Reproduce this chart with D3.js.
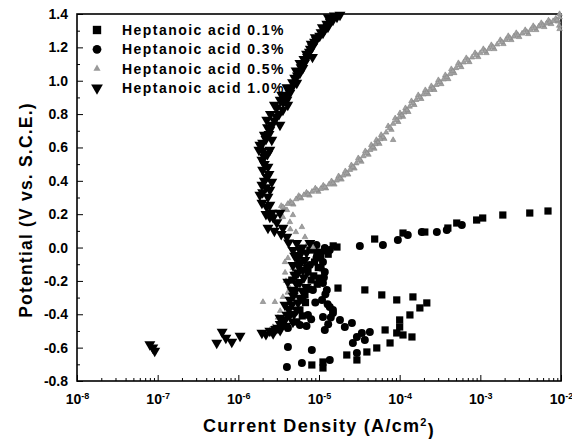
<!DOCTYPE html>
<html><head><meta charset="utf-8">
<script src="https://cdn.jsdelivr.net/npm/d3@7"></script>
<style>
body{margin:0;background:#fff}
svg{display:block}
text{font-family:"Liberation Sans",Arial,Helvetica,sans-serif;font-weight:bold;fill:#000}
</style>
</head><body>
<svg id="c" width="572" height="439"></svg>
<script>
// ---------- data ----------
const xTicks = [1e-8, 1e-7, 1e-6, 1e-5, 1e-4, 1e-3, 1e-2];
const xTickExponents = ["-8", "-7", "-6", "-5", "-4", "-3", "-2"];
const yTicks = [-0.8, -0.6, -0.4, -0.2, 0.0, 0.2, 0.4, 0.6, 0.8, 1.0, 1.2, 1.4];
const yTickLabels = ["-0.8", "-0.6", "-0.4", "-0.2", "0.0", "0.2", "0.4", "0.6", "0.8", "1.0", "1.2", "1.4"];
const seriesNames = ["Heptanoic acid 0.1%", "Heptanoic acid 0.3%", "Heptanoic acid 0.5%", "Heptanoic acid 1.0%"];
const xTitle = "Current Density (A/cm";
const yTitle = "Potential (V vs. S.C.E.)";

// [current density (A/cm2), potential (V)]
const acid01 = [
  [1.67e-5,0.003],[4.9e-5,0.051],[1.1e-4,0.087],[2.05e-4,0.093],[3.96e-4,0.117],[5.1e-4,0.147],
  [9.0e-4,0.165],[1.07e-3,0.177],[1.9e-3,0.195],[4.1e-3,0.207],[6.9e-3,0.219],
  [7.7e-6,-0.015],[9.4e-6,-0.045],[8.8e-6,-0.087],[7.3e-6,-0.147],[8.0e-6,-0.195],[4.6e-6,-0.195],
  [1.0e-5,-0.183],[6.7e-6,-0.284],[5.8e-6,-0.374],[5.3e-6,-0.446],[1.2e-5,-0.02],
  [8.5e-6,-0.01],[1.05e-5,-0.06],[9.8e-6,-0.12],[8.6e-6,-0.17],[9.5e-6,-0.22],[7.4e-6,-0.25],[6.8e-6,-0.33],
  [6.2e-6,-0.41],[1.3e-5,-0.04],[1.5e-5,0.01],
  [1.72e-5,-0.243],[3.7e-5,-0.254],[6.0e-5,-0.284],[9.2e-5,-0.314],[1.46e-4,-0.296],[2.17e-4,-0.332],
  [1.78e-4,-0.362],[1.34e-4,-0.404],[1.0e-4,-0.434],[1.0e-4,-0.476],[6.6e-5,-0.494],[9.2e-5,-0.512],
  [1.1e-4,-0.524],[1.42e-4,-0.536],[7.6e-5,-0.572],[5.2e-5,-0.602],[3.92e-5,-0.626],[2.21e-5,-0.644],
  [2.95e-5,-0.674],[1.12e-5,-0.686],[8.15e-6,-0.704],[1.12e-5,-0.722]
];
const acid03 = [
  [1.36e-5,-0.015],[3.21e-5,0.009],[6.2e-5,0.015],[9.5e-5,0.045],[1.26e-4,0.075],[1.88e-4,0.093],
  [2.89e-4,0.093],[3.84e-4,0.105],[5.9e-4,0.135],[9.3e-6,0.015],[1.18e-5,-0.003],
  [7.7e-6,-0.105],[8.4e-6,-0.254],[6.3e-6,-0.314],[7.3e-6,-0.404],[5.8e-6,-0.464],[4.12e-6,-0.482],[9.3e-6,-0.063],
  [1.12e-5,-0.087],[1.18e-5,-0.147],[1.12e-5,-0.213],[1.25e-5,-0.254],[1.09e-5,-0.314],[1.36e-5,-0.356],
  [1.49e-5,-0.374],[1.12e-5,-0.416],[1.49e-5,-0.392],[1.18e-5,-0.494],
  [1.0e-5,-0.03],[1.05e-5,-0.12],[1.15e-5,-0.18],[1.2e-5,-0.28],[1.28e-5,-0.34],[1.4e-5,-0.42],[1.3e-5,-0.46],
  [9.0e-6,-0.33],[8.0e-6,-0.43],[7.0e-6,-0.47],
  [1.82e-5,-0.434],[2.09e-5,-0.476],[2.56e-5,-0.452],[2.95e-5,-0.536],[3.4e-5,-0.512],[4.27e-5,-0.506],
  [2.63e-5,-0.572],[3.7e-5,-0.554],[2.95e-5,-0.632],[4.12e-6,-0.596],[8.15e-6,-0.614],[4.0e-6,-0.716],
  [6.14e-6,-0.692],[1.36e-5,-0.674]
];
const acid05 = [
  [3.4e-6,0.25],[3.7e-6,0.235],[4.4e-6,0.275],[4.8e-6,0.258],[5.6e-6,0.31],[6.0e-6,0.295],[7.0e-6,0.33],
  [7.6e-6,0.312],[9.0e-6,0.355],[9.8e-6,0.335],[1.13e-5,0.372],[1.22e-5,0.355],[1.43e-5,0.398],[1.55e-5,0.378],
  [1.75e-5,0.428],[1.9e-5,0.408],[2.12e-5,0.458],[2.3e-5,0.438],[2.52e-5,0.494],[2.75e-5,0.474],[3.07e-5,0.536],
  [3.35e-5,0.515],[3.75e-5,0.578],[4.1e-5,0.557],[4.45e-5,0.615],[4.85e-5,0.593],[5.15e-5,0.645],[5.6e-5,0.622],
  [5.9e-5,0.675],[6.45e-5,0.652],[7.2e-5,0.728],[7.9e-5,0.706],[8.8e-5,0.775],[9.6e-5,0.753],[1.01e-4,0.806],
  [1.1e-4,0.784],[1.18e-4,0.836],[1.28e-4,0.813],[1.4e-4,0.878],[1.52e-4,0.855],[1.7e-4,0.914],[1.85e-4,0.891],
  [2.08e-4,0.944],[2.26e-4,0.92],[2.47e-4,0.968],[2.69e-4,0.945],[3.02e-4,1.004],[3.28e-4,0.98],[3.68e-4,1.034],
  [4.0e-4,1.01],[4.37e-4,1.07],[4.75e-4,1.046],[5.35e-4,1.106],[5.8e-4,1.082],[6.7e-4,1.136],[7.3e-4,1.112],
  [8.6e-4,1.166],[9.4e-4,1.142],[1.09e-3,1.19],[1.19e-3,1.166],[1.37e-3,1.214],[1.49e-3,1.19],[1.77e-3,1.244],
  [1.93e-3,1.22],[2.22e-3,1.268],[2.42e-3,1.244],[2.79e-3,1.286],[3.03e-3,1.262],[3.6e-3,1.304],[3.93e-3,1.28],
  [4.53e-3,1.328],[4.93e-3,1.304],[5.7e-3,1.346],[6.2e-3,1.322],[7.0e-3,1.362],[7.55e-3,1.34],[8.6e-3,1.372],
  [9.2e-3,1.355],[9.6e-3,1.40],[9.6e-3,1.38],[9.5e-3,1.33],[9.6e-3,1.31],[8.3e-5,0.645],
  [3.57e-6,0.243],[4.6e-6,0.267],[5.8e-6,0.303],[7.3e-6,0.321],[9.4e-6,0.345],[1.18e-5,0.363],[1.49e-5,0.387],
  [1.82e-5,0.417],[2.21e-5,0.447],[2.63e-5,0.483],[3.21e-5,0.525],[3.92e-5,0.567],[4.66e-5,0.603],[5.37e-5,0.633],
  [6.2e-5,0.663],[7.56e-5,0.717],[9.2e-5,0.764],[1.06e-4,0.794],[1.23e-4,0.824],[1.46e-4,0.866],[1.78e-4,0.902],
  [2.17e-4,0.932],[2.58e-4,0.956],[3.15e-4,0.992],[3.84e-4,1.022],[4.56e-4,1.058],[5.57e-4,1.094],[7.0e-4,1.124],
  [9.0e-4,1.154],[1.14e-3,1.178],[1.43e-3,1.202],[1.85e-3,1.232],[2.32e-3,1.256],[2.91e-3,1.274],[3.77e-3,1.292],
  [4.73e-3,1.316],[5.95e-3,1.334],[7.26e-3,1.352],[8.9e-3,1.364],
  [4.1e-6,0.262],[5.2e-6,0.29],[6.5e-6,0.315],[8.2e-6,0.335],[1.05e-5,0.352],[1.33e-5,0.378],[1.65e-5,0.402],
  [2.0e-5,0.432],[2.42e-5,0.466],[2.9e-5,0.505],[3.55e-5,0.548],[4.3e-5,0.585],[5.0e-5,0.62],[5.75e-5,0.65],
  [6.8e-5,0.69],[8.3e-5,0.742],[9.9e-5,0.78],[1.14e-4,0.81],[1.33e-4,0.845],[1.6e-4,0.885],[1.97e-4,0.918],
  [2.37e-4,0.945],[2.85e-4,0.975],[3.5e-4,1.008],[4.2e-4,1.04],[5.0e-4,1.076],[6.2e-4,1.11],[7.9e-4,1.14],
  [1.0e-3,1.166],[1.28e-3,1.19],[1.62e-3,1.218],[2.07e-3,1.245],[2.6e-3,1.265],[3.3e-3,1.283],[4.2e-3,1.304],
  [5.3e-3,1.325],[6.6e-3,1.343],[8.0e-3,1.358],
  [4.0e-6,0.225],[4.75e-6,0.195],[3.57e-6,0.183],[4.36e-6,0.153],[6.14e-6,0.123],[5.17e-6,0.093],[6.7e-6,0.063],
  [8.4e-6,0.003],[7.3e-6,0.027],[5.8e-6,-0.045],[4.12e-6,-0.063],[3.78e-6,-0.087],[4.75e-6,-0.123],[4.75e-6,-0.153],
  [5.32e-6,-0.213],[4.36e-6,-0.243],[3.57e-6,-0.296],[2.84e-6,-0.326],[5.32e-6,-0.356],[4.36e-6,-0.386],
  [4.36e-6,-0.416],[3.57e-6,-0.446],[3.27e-6,-0.464],[3.0e-6,-0.482],[2.69e-6,-0.476],[2.46e-6,-0.494],[2.02e-6,-0.326],
  [3.9e-6,-0.2],[4.1e-6,-0.27],[3.3e-6,-0.38],[3.1e-6,-0.42],[3.8e-6,-0.15],[4.4e-6,0.11]
];
const acid10 = [
  [8.0e-8,-0.58],[8.7e-8,-0.60],[9.2e-8,-0.62],[5.4e-7,-0.572],[6.3e-7,-0.506],[7.0e-7,-0.542],[8.3e-7,-0.566],
  [1.05e-6,-0.53],[1.96e-6,-0.512],[2.46e-6,-0.50],[3.1e-6,-0.482],[3.57e-6,-0.452],[3.28e-6,-0.422],[4.0e-6,-0.404],
  [2.2e-6,-0.52],[2.7e-6,-0.515],[3.3e-6,-0.495],
  [3.78e-6,-0.344],[4.36e-6,-0.314],[4.6e-6,-0.254],[4.1e-6,-0.206],[5.0e-6,-0.164],[4.75e-6,-0.105],[5.3e-6,-0.063],
  [5.8e-6,-0.015],[7.7e-6,0.027],[5.3e-6,0.027],[4.0e-6,0.063],[3.57e-6,0.117],[2.33e-6,0.117],[3.28e-6,0.207],
  [2.46e-6,0.255],[1.96e-6,0.267],[2.25e-6,0.243],[2.6e-6,0.207],[2.46e-6,0.183],
  [4.75e-6,-0.015],[5.8e-6,-0.045],[6.7e-6,-0.075],[5.47e-6,-0.105],[6.3e-6,-0.135],[5.17e-6,-0.165],[5.8e-6,-0.207],
  [6.9e-6,-0.237],[5.0e-6,-0.266],[5.8e-6,-0.302],[4.6e-6,-0.344],[5.3e-6,-0.374],[4.36e-6,-0.404],[3.78e-6,-0.434],
  [4.75e-6,-0.446],
  [6.2e-6,0.0],[7.0e-6,-0.03],[5.0e-6,-0.05],[6.0e-6,-0.09],[7.2e-6,-0.12],[5.5e-6,-0.15],[6.5e-6,-0.18],[5.3e-6,-0.22],
  [6.2e-6,-0.26],[4.8e-6,-0.29],[5.5e-6,-0.33],[4.2e-6,-0.37],[4.9e-6,-0.40],[3.9e-6,-0.47],[3.3e-6,-0.46],[2.9e-6,-0.49],
  [4.2e-6,0.03],[3.4e-6,0.08],[3.0e-6,0.15],[2.8e-6,0.10],
  [1.85e-6,0.315],[2.33e-6,0.303],[2.46e-6,0.345],[2.25e-6,0.423],[2.33e-6,0.483],[1.96e-6,0.525],[2.1e-6,0.543],
  [2.46e-6,0.585],[1.85e-6,0.615],[2.0e-6,0.627],[2.6e-6,0.645],[2.46e-6,0.705],[2.25e-6,0.765],[2.97e-6,0.783],
  [2.6e-6,0.735],[3.57e-6,0.825],[4.0e-6,0.885],[4.36e-6,0.927],[5.3e-6,0.987],[5.8e-6,1.047],[6.6e-6,1.106],
  [7.2e-6,1.142],[8.3e-6,1.202],[9.3e-6,1.244],[1.12e-5,1.286],[1.29e-5,1.322],[1.49e-5,1.364],[1.82e-5,1.394],
  [1.67e-5,1.382],[2.8e-6,0.855],[4.6e-6,0.957],[3.45e-6,0.915],[5.0e-6,1.017],[6.3e-6,1.076],[5.8e-6,1.106],
  [7.6e-6,1.172],[8.8e-6,1.232],[1.02e-5,1.268],[1.17e-5,1.304],[1.38e-5,1.352],[8.3e-6,1.142],[4.1e-6,0.855],
  [3.28e-6,0.735],[2.1e-6,0.675],[1.8e-6,0.585],[2.0e-6,0.465],[2.6e-6,0.393],[1.96e-6,0.375],[2.2e-6,0.20],[2.7e-6,0.18],
  [2.0e-6,0.33],[2.2e-6,0.36],[2.1e-6,0.40],[2.4e-6,0.44],[2.1e-6,0.50],[2.3e-6,0.56],[2.0e-6,0.58],[2.2e-6,0.65],
  [2.4e-6,0.68],[2.3e-6,0.72],[2.8e-6,0.76],[2.5e-6,0.80],[3.2e-6,0.80],[3.0e-6,0.84],[3.6e-6,0.87],[3.3e-6,0.885],
  [3.9e-6,0.91],[4.3e-6,0.95],[4.0e-6,0.96],[4.7e-6,0.99],[5.4e-6,1.03],[5.2e-6,1.06],[6.0e-6,1.08],[6.5e-6,1.13],
  [7.0e-6,1.16],[7.8e-6,1.19],[8.0e-6,1.22],[9.0e-6,1.26],[1.06e-5,1.29],[1.1e-5,1.32],[1.25e-5,1.34],[1.42e-5,1.37],
  [1.55e-5,1.39],[1.3e-5,1.38]
];

// ---------- chart ----------
const svg = d3.select("#c");
const x = d3.scaleLog().domain([1e-8, 1e-2]).range([77, 561]);
const y = d3.scaleLinear().domain([-0.8, 1.4]).range([381, 14]);

const isDecade = v => Math.abs(Math.log10(v) - Math.round(Math.log10(v))) < 1e-6;
const xMinor = x.ticks().filter(v => !isDecade(v));
const yMinor = y.ticks(22).filter(v => !yTicks.some(t => Math.abs(t - v) < 1e-6));

// minor ticks (inside)
svg.append("g").attr("transform", "translate(0,381)")
  .call(d3.axisBottom(x).tickValues(xMinor).tickSize(-3).tickFormat(""))
  .call(g => g.select(".domain").remove());
svg.append("g").attr("transform", "translate(77,0)")
  .call(d3.axisLeft(y).tickValues(yMinor).tickSize(-3).tickFormat(""))
  .call(g => g.select(".domain").remove());

// major x
const gx = svg.append("g").attr("transform", "translate(0,381)")
  .call(d3.axisBottom(x).tickValues(xTicks).tickSize(-6).tickPadding(13).tickFormat(() => ""))
  .call(g => g.select(".domain").remove());
gx.selectAll(".tick text").each(function(d, i) {
  const t = d3.select(this).attr("font-size", 14).attr("font-family", null).attr("fill", "#000");
  t.text(null);
  t.append("tspan").text("10");
  t.append("tspan").attr("dy", "-0.55em").attr("font-size", 9).text(xTickExponents[i]);
});

// major y
svg.append("g").attr("transform", "translate(77,0)")
  .call(d3.axisLeft(y).tickValues(yTicks).tickSize(-6).tickPadding(9).tickFormat((d, i) => yTickLabels[i]))
  .call(g => g.select(".domain").remove())
  .call(g => g.selectAll(".tick text").attr("font-size", 14).attr("font-family", null).attr("fill", "#000"));

svg.selectAll(".tick line").attr("stroke", "#000").attr("stroke-width", 1);

// frame
svg.append("rect").attr("x", 77).attr("y", 14).attr("width", 484).attr("height", 367)
  .attr("fill", "none").attr("stroke", "#000").attr("stroke-width", 1.6);

// markers
const symSquare = d3.symbol(d3.symbolSquare, 52);
const symCircle = d3.symbol(d3.symbolCircle, 50);
const symTri = d3.symbol(d3.symbolTriangle, 52);
const symGray = d3.symbol(d3.symbolTriangle, 13);

const plot = svg.append("g");
plot.selectAll(".s01").data(acid01).join("path").attr("class", "s01")
  .attr("d", symSquare).attr("transform", d => `translate(${x(d[0])},${y(d[1])})`).attr("fill", "#000");
plot.selectAll(".s03").data(acid03).join("path").attr("class", "s03")
  .attr("d", symCircle).attr("transform", d => `translate(${x(d[0])},${y(d[1])})`).attr("fill", "#000");
plot.selectAll(".s05").data(acid05).join("path").attr("class", "s05")
  .attr("d", symGray).attr("transform", d => `translate(${x(d[0])},${y(d[1])})`)
  .attr("fill", "#a0a0a0").attr("stroke", "#8a8a8a").attr("stroke-width", 0.7);
plot.selectAll(".s10").data(acid10).join("path").attr("class", "s10")
  .attr("d", symTri).attr("transform", d => `translate(${x(d[0])},${y(d[1])}) rotate(180)`).attr("fill", "#000");

// legend
const legSyms = [
  {p: d3.symbol(d3.symbolSquare, 70)(), rot: 0, fill: "#000"},
  {p: d3.symbol(d3.symbolCircle, 60)(), rot: 0, fill: "#000"},
  {p: d3.symbol(d3.symbolTriangle, 22)(), rot: 0, fill: "#999"},
  {p: d3.symbol(d3.symbolTriangle, 60)(), rot: 180, fill: "#000"}
];
const leg = svg.append("g");
seriesNames.forEach((name, i) => {
  const cy = 30 + 19.3 * i;
  leg.append("path").attr("d", legSyms[i].p).attr("fill", legSyms[i].fill)
    .attr("transform", `translate(97,${cy}) rotate(${legSyms[i].rot})`);
  leg.append("text").attr("x", 122).attr("y", cy + 5).attr("font-size", 14)
    .attr("letter-spacing", "1.45px").text(name);
});

// axis titles
const xt = svg.append("text").attr("x", 319).attr("y", 432).attr("text-anchor", "middle")
  .attr("font-size", 18).attr("letter-spacing", "1.3px");
xt.append("tspan").text(xTitle);
xt.append("tspan").attr("dy", "-0.55em").attr("font-size", 11).text("2");
xt.append("tspan").attr("dy", "0.55em").text(")");

svg.append("text").attr("transform", "translate(32,210) rotate(-90)").attr("text-anchor", "middle")
  .attr("font-size", 17.5).attr("letter-spacing", "1.2px").text(yTitle);
</script>
</body></html>
